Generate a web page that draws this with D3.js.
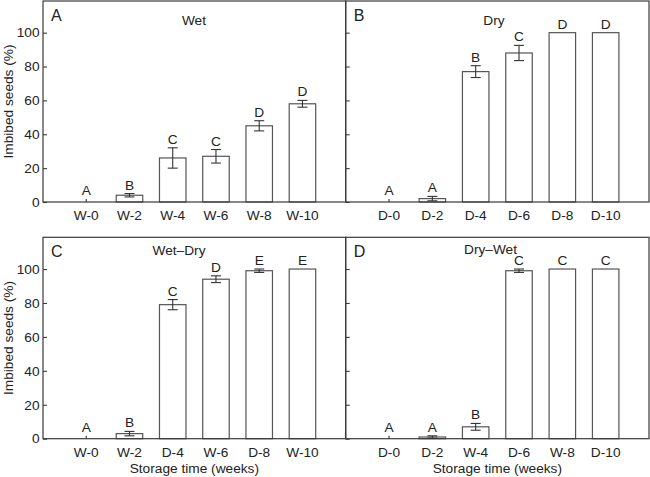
<!doctype html>
<html lang="en">
  <head>
    <meta charset="UTF-8" />
    <title>Imbibed seeds</title>
    <script src="https://d3js.org/d3.v7.min.js"></script>
    <style>
      body,
      html {
        margin: 0;
        padding: 0;
        background: #fff;
      }
      svg {
        display: block;
        font-family: "Liberation Sans", Arial, Helvetica, sans-serif;
      }
      .frame {
        stroke: #3a3a3a;
        stroke-width: 1.2px;
        fill: none;
      }
      .bar {
        fill: #fff;
        stroke: #555;
        stroke-width: 1.2px;
      }
      .err {
        stroke: #333;
        stroke-width: 1.1px;
      }
    </style>
  </head>
  <body>
    <svg id="chart" width="650" height="477"></svg>
    <script>
      // data
      const catsA = ["W-0", "W-2", "W-4", "W-6", "W-8", "W-10"];
      const valsA = [0, 4, 26, 27, 45, 58];
      const errA = [1.8, 1, 6, 4, 3, 2];
      const lettersA = ["A", "B", "C", "C", "D", "D"];

      const catsB = ["D-0", "D-2", "D-4", "D-6", "D-8", "D-10"];
      const valsB = [0, 2, 77, 88, 100, 100];
      const errB = [1.8, 1.3, 3.5, 4.5, 0, 0];
      const lettersB = ["A", "A", "B", "C", "D", "D"];

      const catsC = ["W-0", "W-2", "D-4", "W-6", "D-8", "W-10"];
      const valsC = [0, 3, 79, 94, 99, 100];
      const errC = [1.8, 1.3, 3, 2, 1, 0];
      const lettersC = ["A", "B", "C", "D", "E", "E"];

      const catsD = ["D-0", "D-2", "W-4", "D-6", "W-8", "D-10"];
      const valsD = [0, 1, 7, 99, 100, 100];
      const errD = [1.8, 0.7, 2, 1, 0, 0];
      const lettersD = ["A", "A", "B", "C", "C", "C"];

      const yTicks = [0, 20, 40, 60, 80, 100];
      const yMax = 118.7;

      const svg = d3.select("#chart");
      const fs = 13.7;

      // panel layout
      const colX = [
        [43, 345.7],
        [345.7, 649]
      ];
      const rowY = [
        [1, 202],
        [237.3, 438.7]
      ];

      const panels = [
        { tag: "A", title: "Wet", tx: 194, ty: 24.7, cats: catsA, vals: valsA, errs: errA, letters: lettersA, col: 0, row: 0 },
        { tag: "B", title: "Dry", tx: 494, ty: 25.4, cats: catsB, vals: valsB, errs: errB, letters: lettersB, col: 1, row: 0 },
        { tag: "C", title: "Wet\u2013Dry", tx: 179, ty: 255.4, cats: catsC, vals: valsC, errs: errC, letters: lettersC, col: 0, row: 1 },
        { tag: "D", title: "Dry\u2013Wet", tx: 490.5, ty: 254.3, cats: catsD, vals: valsD, errs: errD, letters: lettersD, col: 1, row: 1 }
      ];

      const barW = 26.5;
      const capW = 10;

      function drawPanel(p) {
        const [x0, x1] = colX[p.col];
        const [top, bottom] = rowY[p.row];
        const x = d3.scalePoint().domain(p.cats).range([x0, x1]).padding(1);
        const y = d3.scaleLinear().domain([0, yMax]).range([bottom, top]);
        const g = svg.append("g");

        // inward ticks on left side
        const yAxis = d3.axisRight(y).tickValues(yTicks).tickSize(4).tickFormat("");
        const ya = g.append("g").attr("transform", `translate(${x0},0)`).call(yAxis);
        ya.select(".domain").remove();
        ya.selectAll("line").attr("stroke", "#3a3a3a").attr("stroke-width", 1.1);

        if (p.col === 0) {
          g.selectAll(".ytl")
            .data(yTicks)
            .join("text")
            .attr("x", x0 - 3.5)
            .attr("y", (d) => y(d))
            .attr("dy", "0.35em")
            .attr("text-anchor", "end")
            .attr("font-size", fs)
            .attr("fill", "#222")
            .text((d) => d);

          g.append("text")
            .attr("transform", `translate(13,${(top + bottom) / 2}) rotate(-90)`)
            .attr("text-anchor", "middle")
            .attr("font-size", fs)
            .attr("fill", "#222")
            .text("Imbibed seeds (%)");
        }

        const data = p.cats.map((c, i) => ({
          cat: c,
          v: p.vals[i],
          e: p.errs[i],
          l: p.letters[i]
        }));

        // bars
        g.selectAll(".bar")
          .data(data.filter((d) => d.v > 0))
          .join("rect")
          .attr("class", "bar")
          .attr("x", (d) => x(d.cat) - barW / 2)
          .attr("y", (d) => y(d.v))
          .attr("width", barW)
          .attr("height", (d) => y(0) - y(d.v));

        // error bars
        const eb = g
          .selectAll(".eb")
          .data(data.filter((d) => d.e > 0))
          .join("g");
        eb.append("line")
          .attr("class", "err")
          .attr("x1", (d) => x(d.cat))
          .attr("x2", (d) => x(d.cat))
          .attr("y1", (d) => y(Math.max(0, d.v - d.e)))
          .attr("y2", (d) => y(d.v + d.e));
        eb.filter((d) => d.v > 0)
          .append("line")
          .attr("class", "err")
          .attr("x1", (d) => x(d.cat) - capW / 2)
          .attr("x2", (d) => x(d.cat) + capW / 2)
          .attr("y1", (d) => y(d.v + d.e))
          .attr("y2", (d) => y(d.v + d.e));
        eb.filter((d) => d.v > 0 && d.v - d.e > 0)
          .append("line")
          .attr("class", "err")
          .attr("x1", (d) => x(d.cat) - capW / 2)
          .attr("x2", (d) => x(d.cat) + capW / 2)
          .attr("y1", (d) => y(d.v - d.e))
          .attr("y2", (d) => y(d.v - d.e));

        // significance letters
        g.selectAll(".sig")
          .data(data)
          .join("text")
          .attr("x", (d) => x(d.cat))
          .attr("y", (d) => y(d.v + d.e) - 4)
          .attr("text-anchor", "middle")
          .attr("font-size", fs)
          .attr("fill", "#222")
          .text((d) => d.l);

        // category labels
        g.selectAll(".xtl")
          .data(p.cats)
          .join("text")
          .attr("x", (d) => x(d))
          .attr("y", bottom + 18)
          .attr("text-anchor", "middle")
          .attr("font-size", fs)
          .attr("fill", "#222")
          .text((d) => d);

        // frame
        g.append("rect")
          .attr("class", "frame")
          .attr("x", x0)
          .attr("y", top)
          .attr("width", x1 - x0)
          .attr("height", bottom - top);

        g.append("text")
          .attr("x", x0 + 8)
          .attr("y", top + 20)
          .attr("font-size", 16)
          .attr("fill", "#222")
          .text(p.tag);

        g.append("text")
          .attr("x", p.tx)
          .attr("y", p.ty)
          .attr("text-anchor", "middle")
          .attr("font-size", fs)
          .attr("fill", "#222")
          .text(p.title);

        if (p.row === 1) {
          g.append("text")
            .attr("x", (x0 + x1) / 2)
            .attr("y", 473)
            .attr("text-anchor", "middle")
            .attr("font-size", fs)
            .attr("fill", "#222")
            .text("Storage time (weeks)");
        }
      }

      panels.forEach(drawPanel);
    </script>
  </body>
</html>
